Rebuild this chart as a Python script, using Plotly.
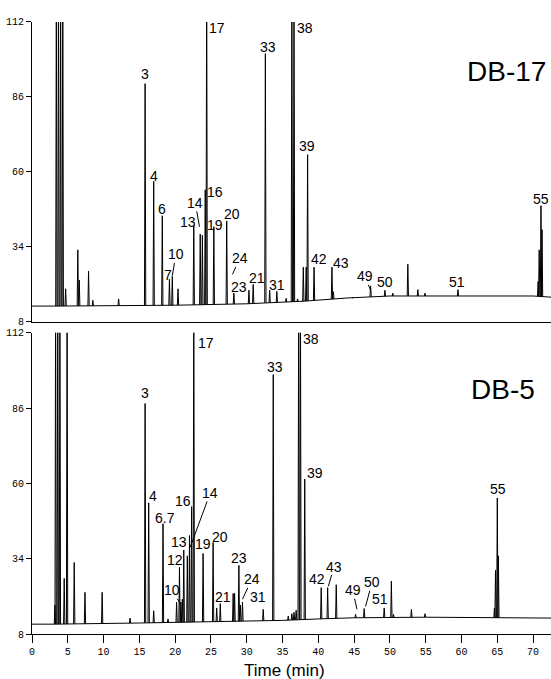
import numpy as np
import plotly.graph_objects as go

# ---------------- DATA ----------------
# DB-17 (top panel): peak retention times (min) and heights
top_peak_t = [3.4, 3.7, 4.0, 4.3, 4.7, 6.4, 6.6, 7.9, 8.5, 12.1,
              15.8, 17.0, 18.2, 19.2, 19.6, 20.4, 22.6, 23.5, 23.8, 24.2,
              24.4, 25.4, 27.2, 28.2, 30.3, 30.9, 32.6, 33.2, 34.2, 35.5,
              36.3, 36.6, 37.1, 37.9, 38.3, 38.5, 39.4, 41.9, 42.1,
              43.3, 44.8, 47.3, 49.3, 50.4, 52.5, 53.9, 54.9, 59.5,
              70.7, 70.85, 71.1, 71.25]
top_peak_h = [130, 130, 130, 130, 19.5, 33.0, 22.5, 25.6, 15.5, 16.0,
              90.6, 56.8, 44.8, 22.8, 23.8, 19.5, 41.5, 38.5, 38.0, 53.8,
              130, 41.0, 43.0, 18.0, 19.0, 21.0, 101.0, 19.0, 18.6, 16.2,
              130, 130, 16.0, 27.0, 27.0, 66.0, 27.0, 27.0, 18.5,
              16.0, 16.5, 20.5, 19.0, 18.0, 28.0, 19.2, 18.0, 19.2,
              22.0, 33.0, 48.3, 40.0]
top_base_t = [0, 3.0, 20, 30, 38, 44, 50, 60, 70, 72.5]
top_base_v = [13.5, 13.5, 13.8, 14.3, 15.2, 16.3, 17.0, 17.0, 17.0, 16.6]

top_labels = ["3", "4", "6", "7", "10", "13", "14", "16", "17", "19", "20", "24",
              "23", "21", "33", "31", "38", "39", "42", "43", "49", "50", "51", "55"]
top_label_t = [15.8, 17.0, 18.2, 19.0, 20.1, 21.8, 22.8, 25.6, 25.8, 25.6, 28.0, 29.0,
               28.9, 31.4, 33.0, 34.2, 38.1, 38.4, 40.1, 43.2, 46.5, 49.3, 59.4, 71.1]
top_label_v = [94.1, 58.6, 47.3, 24.2, 31.4, 42.8, 49.3, 53.1, 110.0, 41.7, 45.5, 30.0,
               20.1, 23.2, 103.4, 20.7, 110.0, 69.0, 29.7, 28.3, 23.8, 21.8, 21.8, 50.7]
# labels joined to their peak by a short stroke: label -> peak point
top_leader_labels = ["10", "14", "24", "49"]
top_leader_t = [19.6, 23.4, 28.0, 47.3]
top_leader_v = [24.0, 41.0, 24.5, 19.0]

# DB-5 (bottom panel)
bot_peak_t = [3.2, 3.3, 3.6, 3.9, 4.5, 4.9, 5.9, 7.4, 9.8, 13.7,
              15.8, 16.3, 17.0, 18.3, 19.0, 20.2, 20.6, 20.8, 21.0, 21.2,
              21.7, 22.0, 22.3, 22.6, 23.9, 25.3, 25.8, 26.3, 28.1, 28.3,
              28.9, 29.1, 29.4, 32.3, 33.7, 35.8, 36.3, 36.6, 36.9,
              37.25, 37.5, 38.1, 40.4, 41.3, 42.5, 45.2, 46.4, 49.2,
              50.2, 50.5, 53.0, 54.9, 64.6, 64.75, 65.0, 65.15]
bot_peak_h = [18.0, 130, 130, 130, 27.2, 130, 32.7, 22.4, 22.4, 13.5,
              87.6, 53.3, 16.0, 46.1, 13.2, 19.0, 31.0, 19.0, 20.0, 37.0,
              35.0, 42.0, 52.0, 130, 35.8, 39.6, 17.0, 18.5, 22.0, 22.0,
              31.7, 18.0, 19.0, 16.5, 97.6, 14.2, 15.0, 15.5, 16.2,
              130, 130, 61.5, 24.0, 24.0, 25.0, 14.8, 16.8, 17.0,
              26.3, 14.8, 16.5, 15.0, 17.0, 30.0, 55.0, 35.0]
bot_base_t = [0, 3.0, 15, 25, 35, 40, 45, 55, 72.5]
bot_base_v = [11.4, 11.4, 11.8, 12.2, 12.7, 13.2, 13.6, 13.8, 13.5]

bot_labels = ["3", "4", "6.7", "16", "14", "13", "12", "10", "17", "19", "20", "21",
              "23", "24", "31", "33", "38", "39", "42", "43", "49", "50", "51", "55"]
bot_label_t = [15.8, 16.9, 18.6, 21.1, 24.9, 20.5, 20.0, 19.6, 24.3, 23.9, 26.3, 26.7,
               28.9, 30.7, 31.6, 33.9, 39.0, 39.5, 39.8, 42.2, 44.8, 47.5, 48.6, 65.1]
bot_label_v = [91.1, 55.7, 48.2, 54.1, 56.7, 39.9, 33.4, 23.1, 108.6, 39.2, 41.6, 20.7,
               34.4, 26.9, 20.7, 100.3, 110.0, 63.6, 26.9, 31.3, 23.1, 25.9, 20.0, 58.1]
bot_leader_labels = ["14", "10", "24", "43", "49", "50"]
bot_leader_t = [22.1, 20.7, 29.4, 41.4, 45.4, 46.6]
bot_leader_v = [38.0, 18.5, 20.0, 24.5, 16.5, 17.5]

x_ticks = list(range(0, 75, 5))
y_ticks = [8, 34, 60, 86, 112]
x_title = "Time (min)"
panel_names = ["DB-17", "DB-5"]

# ---------------- FIGURE ----------------
PEAK_HALF_WIDTH = 0.09
INK = "black"


def peak_segments(ts, hs, base_t, base_v):
    xs, ys = [], []
    for t, h in zip(ts, hs):
        b = float(np.interp(t, base_t, base_v))
        xs += [t - PEAK_HALF_WIDTH, t, t + PEAK_HALF_WIDTH, None]
        ys += [b, h, b, None]
    return xs, ys


fig = go.Figure()

tx, ty = peak_segments(top_peak_t, top_peak_h, top_base_t, top_base_v)
bx, by = peak_segments(bot_peak_t, bot_peak_h, bot_base_t, bot_base_v)

line_style = dict(color=INK, width=1)
fig.add_trace(go.Scatter(x=top_base_t, y=top_base_v, mode="lines", line=line_style,
                         xaxis="x2", yaxis="y2", showlegend=False, hoverinfo="skip"))
fig.add_trace(go.Scatter(x=tx, y=ty, mode="lines", line=line_style,
                         xaxis="x2", yaxis="y2", showlegend=False, connectgaps=False))
fig.add_trace(go.Scatter(x=bot_base_t, y=bot_base_v, mode="lines", line=line_style,
                         xaxis="x", yaxis="y", showlegend=False, hoverinfo="skip"))
fig.add_trace(go.Scatter(x=bx, y=by, mode="lines", line=line_style,
                         xaxis="x", yaxis="y", showlegend=False, connectgaps=False))

label_font = dict(family="Liberation Sans, Arial", size=14, color=INK)
annotations = []


def add_labels(labels, lt, lv, leader_labels, leader_t, leader_v, xref, yref):
    for lab, t, v in zip(labels, lt, lv):
        if lab in leader_labels:
            i = leader_labels.index(lab)
            annotations.append(dict(
                x=leader_t[i], y=leader_v[i], ax=t, ay=v, axref=xref, ayref=yref,
                xref=xref, yref=yref, text=lab, showarrow=True, arrowhead=0,
                arrowwidth=1, arrowcolor=INK, font=label_font, borderpad=0,
                standoff=0, startstandoff=0))
        else:
            annotations.append(dict(
                x=t, y=v, xref=xref, yref=yref, text=lab, showarrow=False,
                font=label_font, xanchor="center", yanchor="middle"))


add_labels(top_labels, top_label_t, top_label_v,
           top_leader_labels, top_leader_t, top_leader_v, "x2", "y2")
add_labels(bot_labels, bot_label_t, bot_label_v,
           bot_leader_labels, bot_leader_t, bot_leader_v, "x", "y")

big_font = dict(family="Liberation Sans, Arial", size=28, color=INK)
annotations.append(dict(x=66.3, y=94.8, xref="x2", yref="y2", text=panel_names[0],
                        showarrow=False, font=big_font, xanchor="center", yanchor="middle"))
annotations.append(dict(x=65.8, y=92.4, xref="x", yref="y", text=panel_names[1],
                        showarrow=False, font=big_font, xanchor="center", yanchor="middle"))
annotations.append(dict(x=35.3, y=-0.058, xref="x", yref="paper", text=x_title,
                        showarrow=False, xanchor="center", yanchor="middle",
                        font=dict(family="Liberation Sans, Arial", size=17, color=INK)))

tick_font = dict(family="Liberation Mono, DejaVu Sans Mono", size=10, color=INK)
x_common = dict(range=[0, 72.5], showgrid=False, zeroline=False, showline=True,
                linecolor=INK, linewidth=1)
y_common = dict(range=[8, 112], tickvals=y_ticks, ticks="outside", ticklen=5,
                tickwidth=1, tickcolor=INK, showgrid=False, zeroline=False,
                showline=True, linecolor=INK, linewidth=1, tickfont=tick_font)

fig.update_layout(
    width=551, height=679,
    margin=dict(l=32, r=0, t=0, b=45),
    paper_bgcolor="white", plot_bgcolor="white",
    showlegend=False,
    xaxis=dict(**x_common, anchor="y", tickvals=x_ticks, ticks="outside", ticklen=8,
               tickwidth=1, tickcolor=INK, tickfont=tick_font),
    xaxis2=dict(**x_common, anchor="y2", matches="x", showticklabels=False, ticks=""),
    yaxis=dict(**y_common, domain=[0, 0.478], anchor="x"),
    yaxis2=dict(**y_common, domain=[0.4953, 0.9716], anchor="x2"),
    annotations=annotations,
)

fig.write_html("out.html")
